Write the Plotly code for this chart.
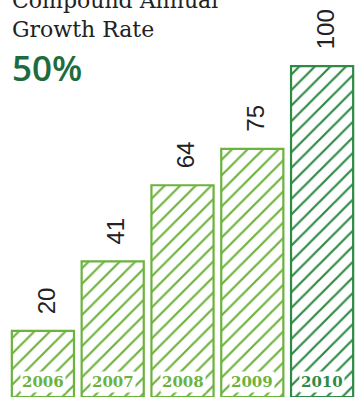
import plotly.graph_objects as go

# Revenue index by year
years = ["2006", "2007", "2008", "2009", "2010"]
values = [20, 41, 64, 75, 100]
bar_colors = ["#6cb33e", "#6cb33e", "#6cb33e", "#6cb33e", "#2f8a45"]
headline = "Compound Annual<br>Growth Rate"
cagr_text = "50%"

fig = go.Figure()
fig.add_trace(go.Bar(
    x=years,
    y=values,
    marker=dict(
        color="white",
        line=dict(color=bar_colors, width=2.2),
        pattern=dict(shape="/", fgcolor=bar_colors, bgcolor="white",
                     fgopacity=1, size=11, solidity=0.2, fillmode="replace"),
    ),
    hoverinfo="skip",
))

# category positions are indices on the category axis
for i, (v, c) in enumerate(zip(values, bar_colors)):
    # value label, rotated, above the bar
    fig.add_annotation(
        x=i, y=v, text=str(v), textangle=-90, showarrow=False,
        yanchor="bottom", yshift=15, xshift=3,
        font=dict(family="Liberation Sans", size=24, color="#222222"),
    )
    # year label inside the bar, near the base
    fig.add_annotation(
        x=i, y=0, text=years[i], showarrow=False, yanchor="bottom", yshift=4,
        bgcolor="white",
        font=dict(family="DejaVu Serif", size=15, color=c, weight="bold"),
    )

fig.add_annotation(
    xref="paper", yref="paper", x=0.006, y=1.035, xanchor="left", yanchor="top",
    text=headline, showarrow=False, align="left",
    font=dict(family="DejaVu Serif", size=22, color="#222222"),
)
fig.add_annotation(
    xref="paper", yref="paper", x=0.006, y=0.765, xanchor="left", yanchor="bottom",
    text=cagr_text, showarrow=False, align="left",
    font=dict(family="Open Sans", size=35, color="#1d6b3f", weight=600),
)

fig.update_layout(
    width=358, height=400,
    margin=dict(l=8, r=1, t=0, b=3),
    paper_bgcolor="white", plot_bgcolor="white",
    bargap=0.11,
    showlegend=False,
    xaxis=dict(visible=False, type="category", categoryorder="array",
               categoryarray=years, range=[-0.5, len(years) - 0.5]),
    yaxis=dict(visible=False, range=[0, 120]),
)

fig.write_html("out.html")
